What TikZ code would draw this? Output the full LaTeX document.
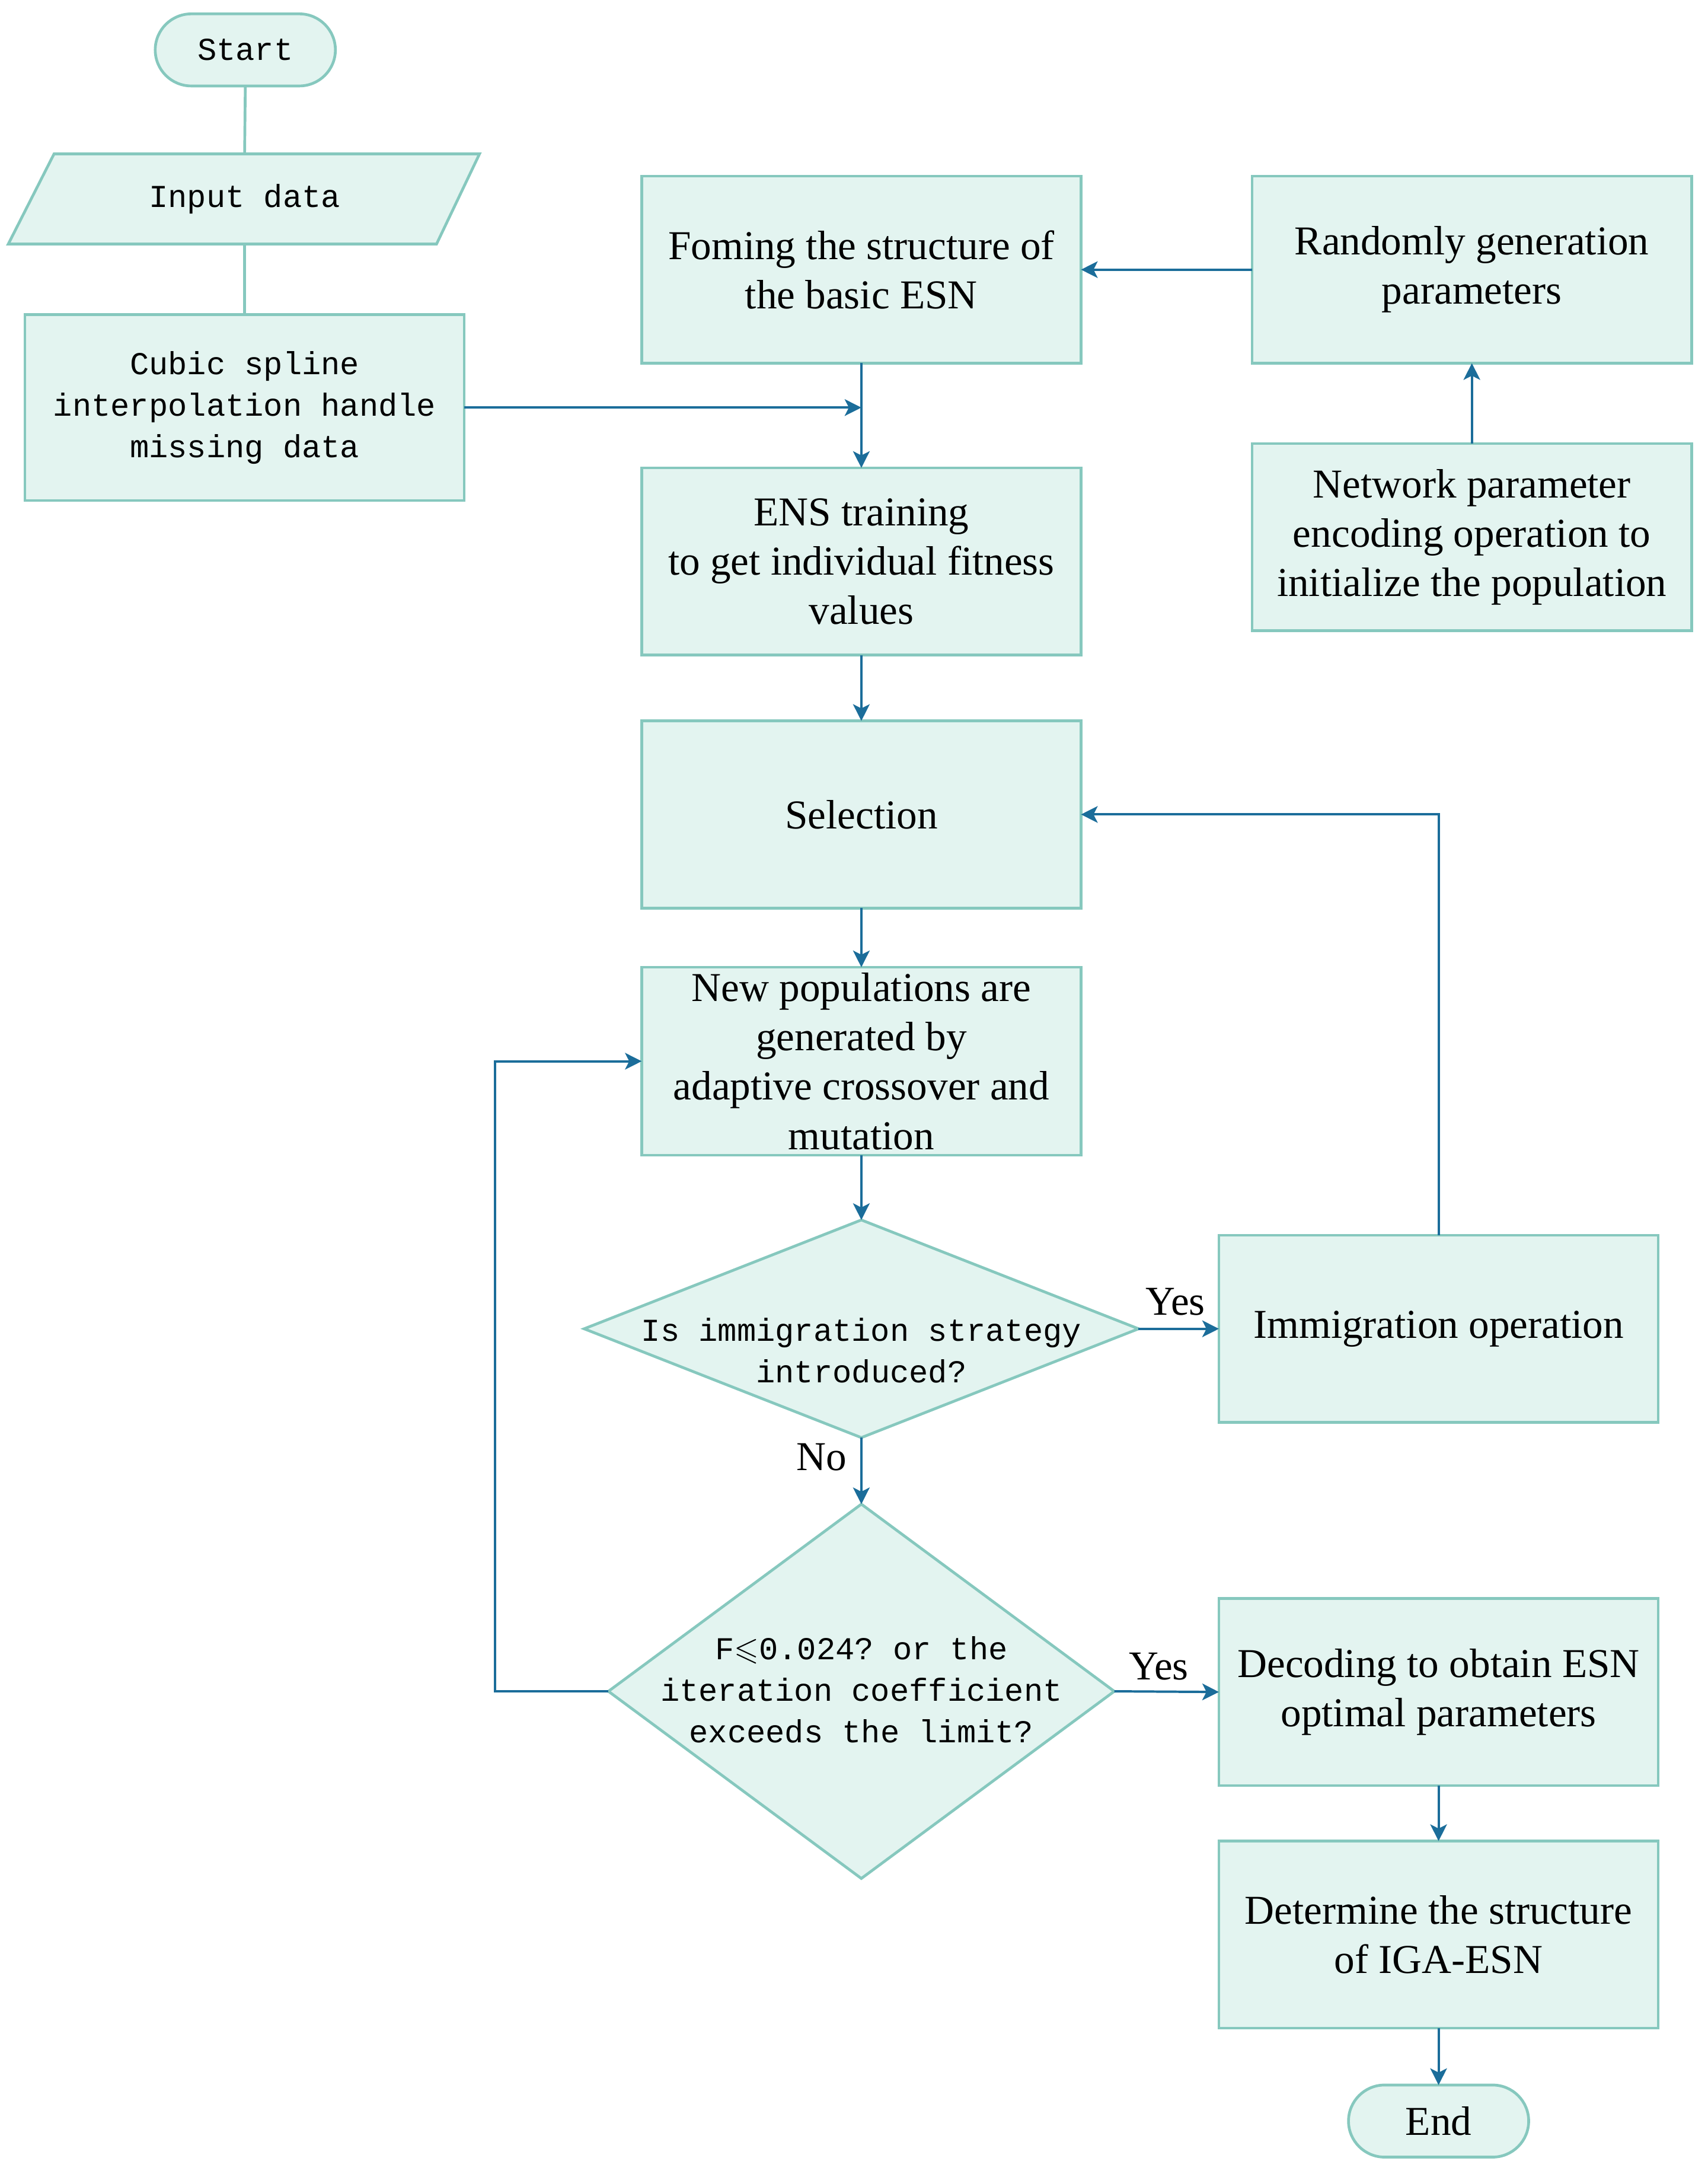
\documentclass[tikz,border=0pt]{standalone}
\usepackage{amssymb}
\usepackage{fontspec}
\setmainfont{Liberation Serif}
\setmonofont{Liberation Mono}
\usetikzlibrary{shapes.geometric,arrows.meta}
\definecolor{bfill}{HTML}{E3F4F0}
\definecolor{bline}{HTML}{86C8BE}
\definecolor{arr}{HTML}{1B6D9A}
\newcommand\serifsz{\rmfamily\fontsize{14.8}{17.8}\selectfont}
\newcommand\monosz{\ttfamily\fontsize{11.5}{15}\selectfont}
\tikzset{
 box/.style={draw=bline, fill=bfill, line width=1pt, minimum width=158.5pt, minimum height=67.5pt, inner sep=2pt, outer sep=0pt, align=center, font=\serifsz},
 term/.style={draw=bline, fill=bfill, line width=1pt, rounded corners=13pt, minimum width=65pt, minimum height=26pt, outer sep=0pt, inner sep=0pt},
 dia/.style={diamond, draw=bline, fill=bfill, line width=1pt, inner sep=0pt, outer sep=0pt},
 txt/.style={align=center, inner sep=0pt, font=\monosz},
 conn/.style={draw=bline, line width=1pt},
 arrow/.style={draw=arr, line width=0.85pt, -{Stealth[length=6pt,width=6pt,inset=1.5pt]}},
 lab/.style={font=\serifsz, inner sep=0pt}
}
\begin{document}
\begin{tikzpicture}[x=0.5pt,y=-0.5pt]
\useasboundingbox (0,0) rectangle (1232,1568.2);
% left column
\node[term, font=\monosz] (start) at (177,36) {Start};
\fill[bfill] (39,111) -- (346,111) -- (315,176) -- (6,176) -- cycle;
\draw[bline, line width=1pt, line join=miter] (39,111) -- (346,111) -- (315,176) -- (6,176) -- cycle;
\node[txt, minimum height=32.5pt, minimum width=130pt] (input) at (176.5,143.5) {Input data};
\node[box, font=\monosz, minimum height=67pt] (cub) at (176.5,294) {Cubic spline\\interpolation handle\\missing data};
\draw[conn] (start.south) -- (input.north);
\draw[conn] (input.south) -- (cub.north);
% main column
\node[box] (fom) at (621.5,194.5) {Foming the structure of\\the basic ESN};
\node[box] (rnd) at (1062,194.5) {Randomly generation\\parameters};
\node[box] (net) at (1062,387.5) {Network parameter\\encoding operation to\\initialize the population};
\node[box] (ens) at (621.5,405) {ENS training\\to get individual fitness\\values};
\node[box] (sel) at (621.5,587.5) {Selection};
\node[box] (newp) at (621.5,765.5) {New populations are\\generated by\\adaptive crossover and\\mutation};
\node[dia, minimum width=200pt, minimum height=78.5pt] (d1) at (621.5,958.5) {};
\node[txt] (d1t) at (621.5,974) {Is immigration strategy\\introduced?};
\node[box] (imm) at (1038,958.5) {Immigration operation};
\node[dia, minimum width=182.5pt, minimum height=135pt] (d2) at (621.5,1220) {};
\node[txt] (d2t) at (621.5,1219) {F$\leqslant$0.024? or the\\iteration coefficient\\exceeds the limit?};
\node[box] (dec) at (1038,1220.5) {Decoding to obtain ESN\\optimal parameters};
\node[box] (det) at (1038,1395.5) {Determine the structure\\of IGA-ESN};
\node[term, font=\serifsz] (endn) at (1038,1530) {End};
% labels
\node[lab] (y1) at (848,939) {Yes};
\node[lab] (n1) at (593,1051) {No};
\node[lab] (y2) at (836,1202) {Yes};
% connectors
\draw[arrow] (rnd.west) -- (fom.east);
\draw[arrow] (net.north) -- (rnd.south);
\draw[arrow] (fom.south) -- (ens.north);
\coordinate (jn) at (fom.south |- cub.east);
\draw[arrow] (cub.east) -- (jn);
\draw[arrow] (ens.south) -- (sel.north);
\draw[arrow] (sel.south) -- (newp.north);
\draw[arrow] (newp.south) -- (d1.north);
\draw[arrow] (d1.east) -- (imm.west);
\draw[arrow] (imm.north) |- (sel.east);
\draw[arrow] (d1.south) -- (d2.north);
\draw[arrow] (d2.east) -- (dec.west);
\coordinate (lp) at (357,1220);
\draw[arrow] (d2.west) -- (lp) |- (newp.west);
\draw[arrow] (dec.south) -- (det.north);
\draw[arrow] (det.south) -- (endn.north);
\end{tikzpicture}
\end{document}
